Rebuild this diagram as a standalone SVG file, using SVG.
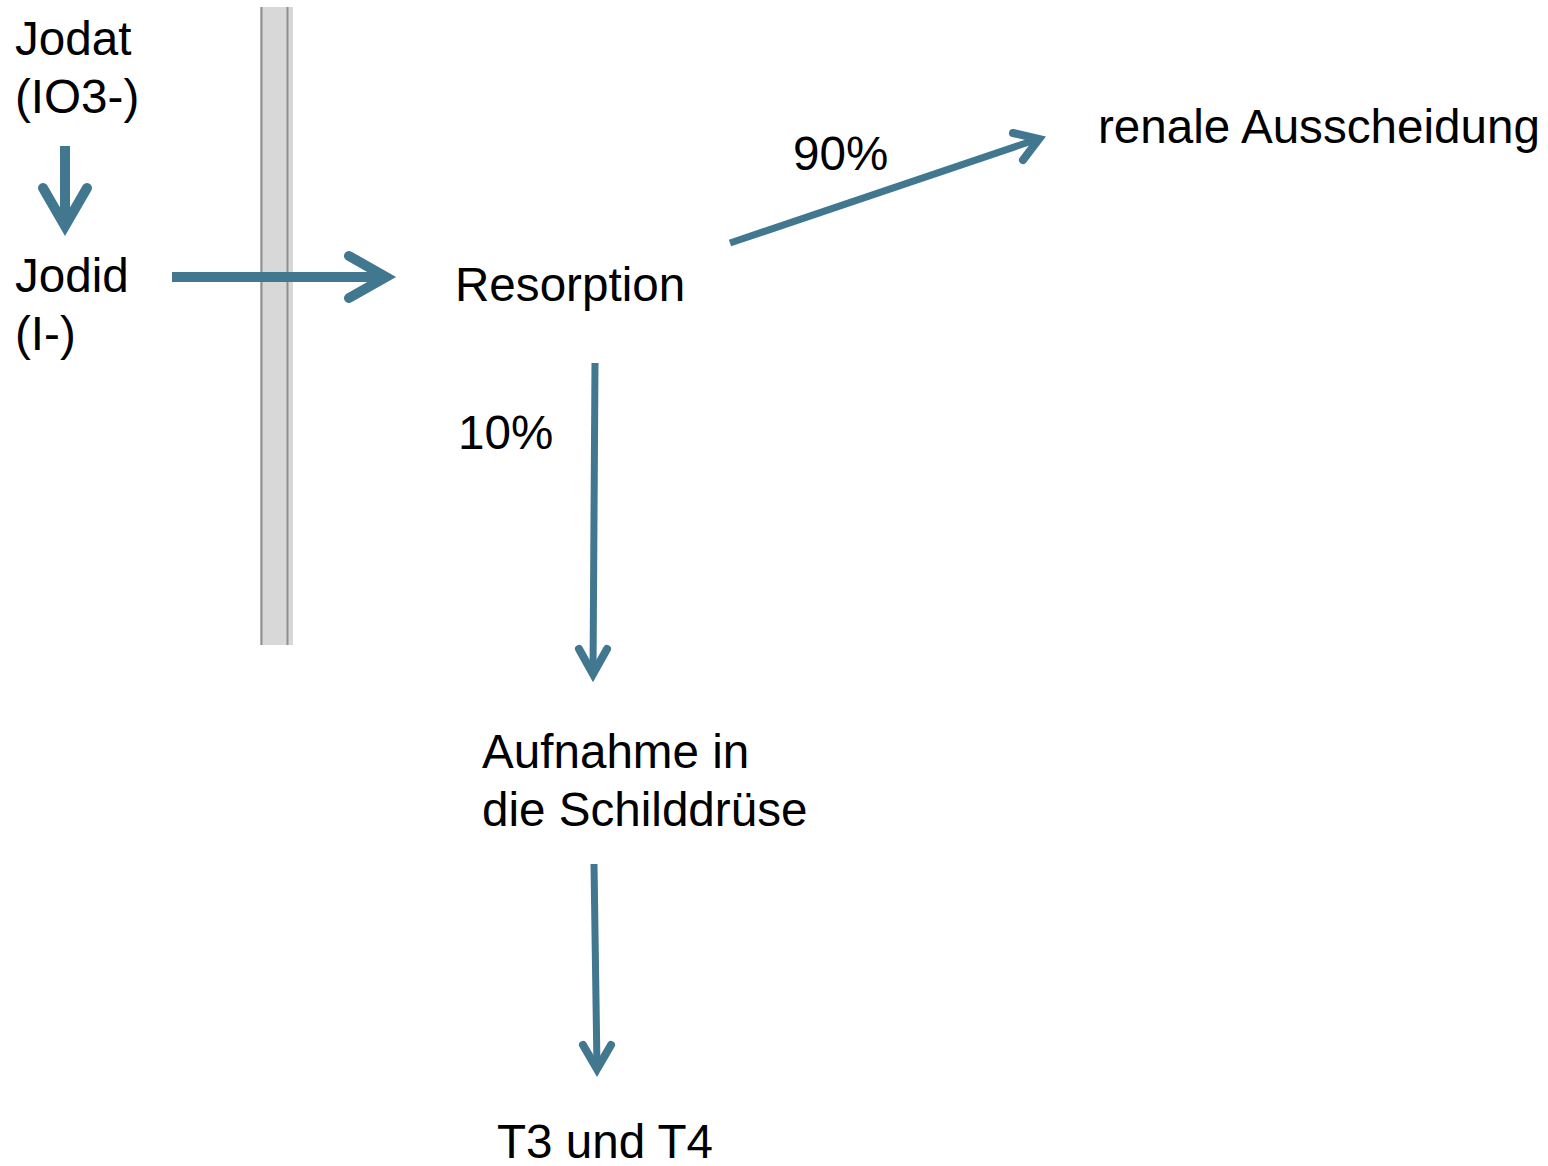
<svg xmlns="http://www.w3.org/2000/svg" width="1548" height="1166" viewBox="0 0 1548 1166">
<style>
text{font-family:"Liberation Sans",Arial,sans-serif;font-size:47.6px;fill:#000}
.c{fill:none;stroke:#41778f;stroke-linecap:butt}
.h{fill:none;stroke:#41778f;stroke-linecap:round;stroke-linejoin:miter}
</style>
<rect width="1548" height="1166" fill="#fff"/>
<g id="barrier">
<rect x="260" y="7" width="33" height="638" fill="#d8d8d8"/>
<line x1="261.5" y1="7" x2="261.5" y2="645" stroke="#8f8f8f" stroke-width="2"/>
<line x1="287.5" y1="7" x2="287.5" y2="645" stroke="#8f8f8f" stroke-width="2"/>
</g>
<g id="connectors">
<line class="c" x1="65" y1="146" x2="65" y2="224" stroke-width="10"/>
<polyline class="h" points="43,188 65,226 87,188" stroke-width="10"/>
<line class="c" x1="172" y1="277" x2="384" y2="277" stroke-width="10"/>
<polyline class="h" points="349,256 386,277 349,298" stroke-width="10"/>
<line class="c" x1="730" y1="243" x2="1038" y2="139" stroke-width="7"/>
<polyline class="h" points="1013,133 1039,139 1023,160" stroke-width="8"/>
<line class="c" x1="595" y1="363" x2="593" y2="673" stroke-width="7"/>
<polyline class="h" points="579,649 593,674 607,649" stroke-width="8"/>
<line class="c" x1="594" y1="864" x2="597" y2="1068" stroke-width="7"/>
<polyline class="h" points="583,1045 597,1069 611,1045" stroke-width="8"/>
</g>
<g id="jodat"><text x="15" y="55">Jodat</text><text x="15" y="113">(IO3-)</text></g>
<g id="jodid"><text x="15" y="292">Jodid</text><text x="15" y="350">(I-)</text></g>
<g id="resorption"><text x="455" y="301">Resorption</text></g>
<g id="label90"><text x="793" y="170">90%</text></g>
<g id="renal"><text x="1098" y="143">renale Ausscheidung</text></g>
<g id="label10"><text x="458" y="449">10%</text></g>
<g id="aufnahme"><text x="482" y="768">Aufnahme in</text><text x="482" y="826">die Schilddrüse</text></g>
<g id="t3t4"><text x="497" y="1158">T3 und T4</text></g>
</svg>
